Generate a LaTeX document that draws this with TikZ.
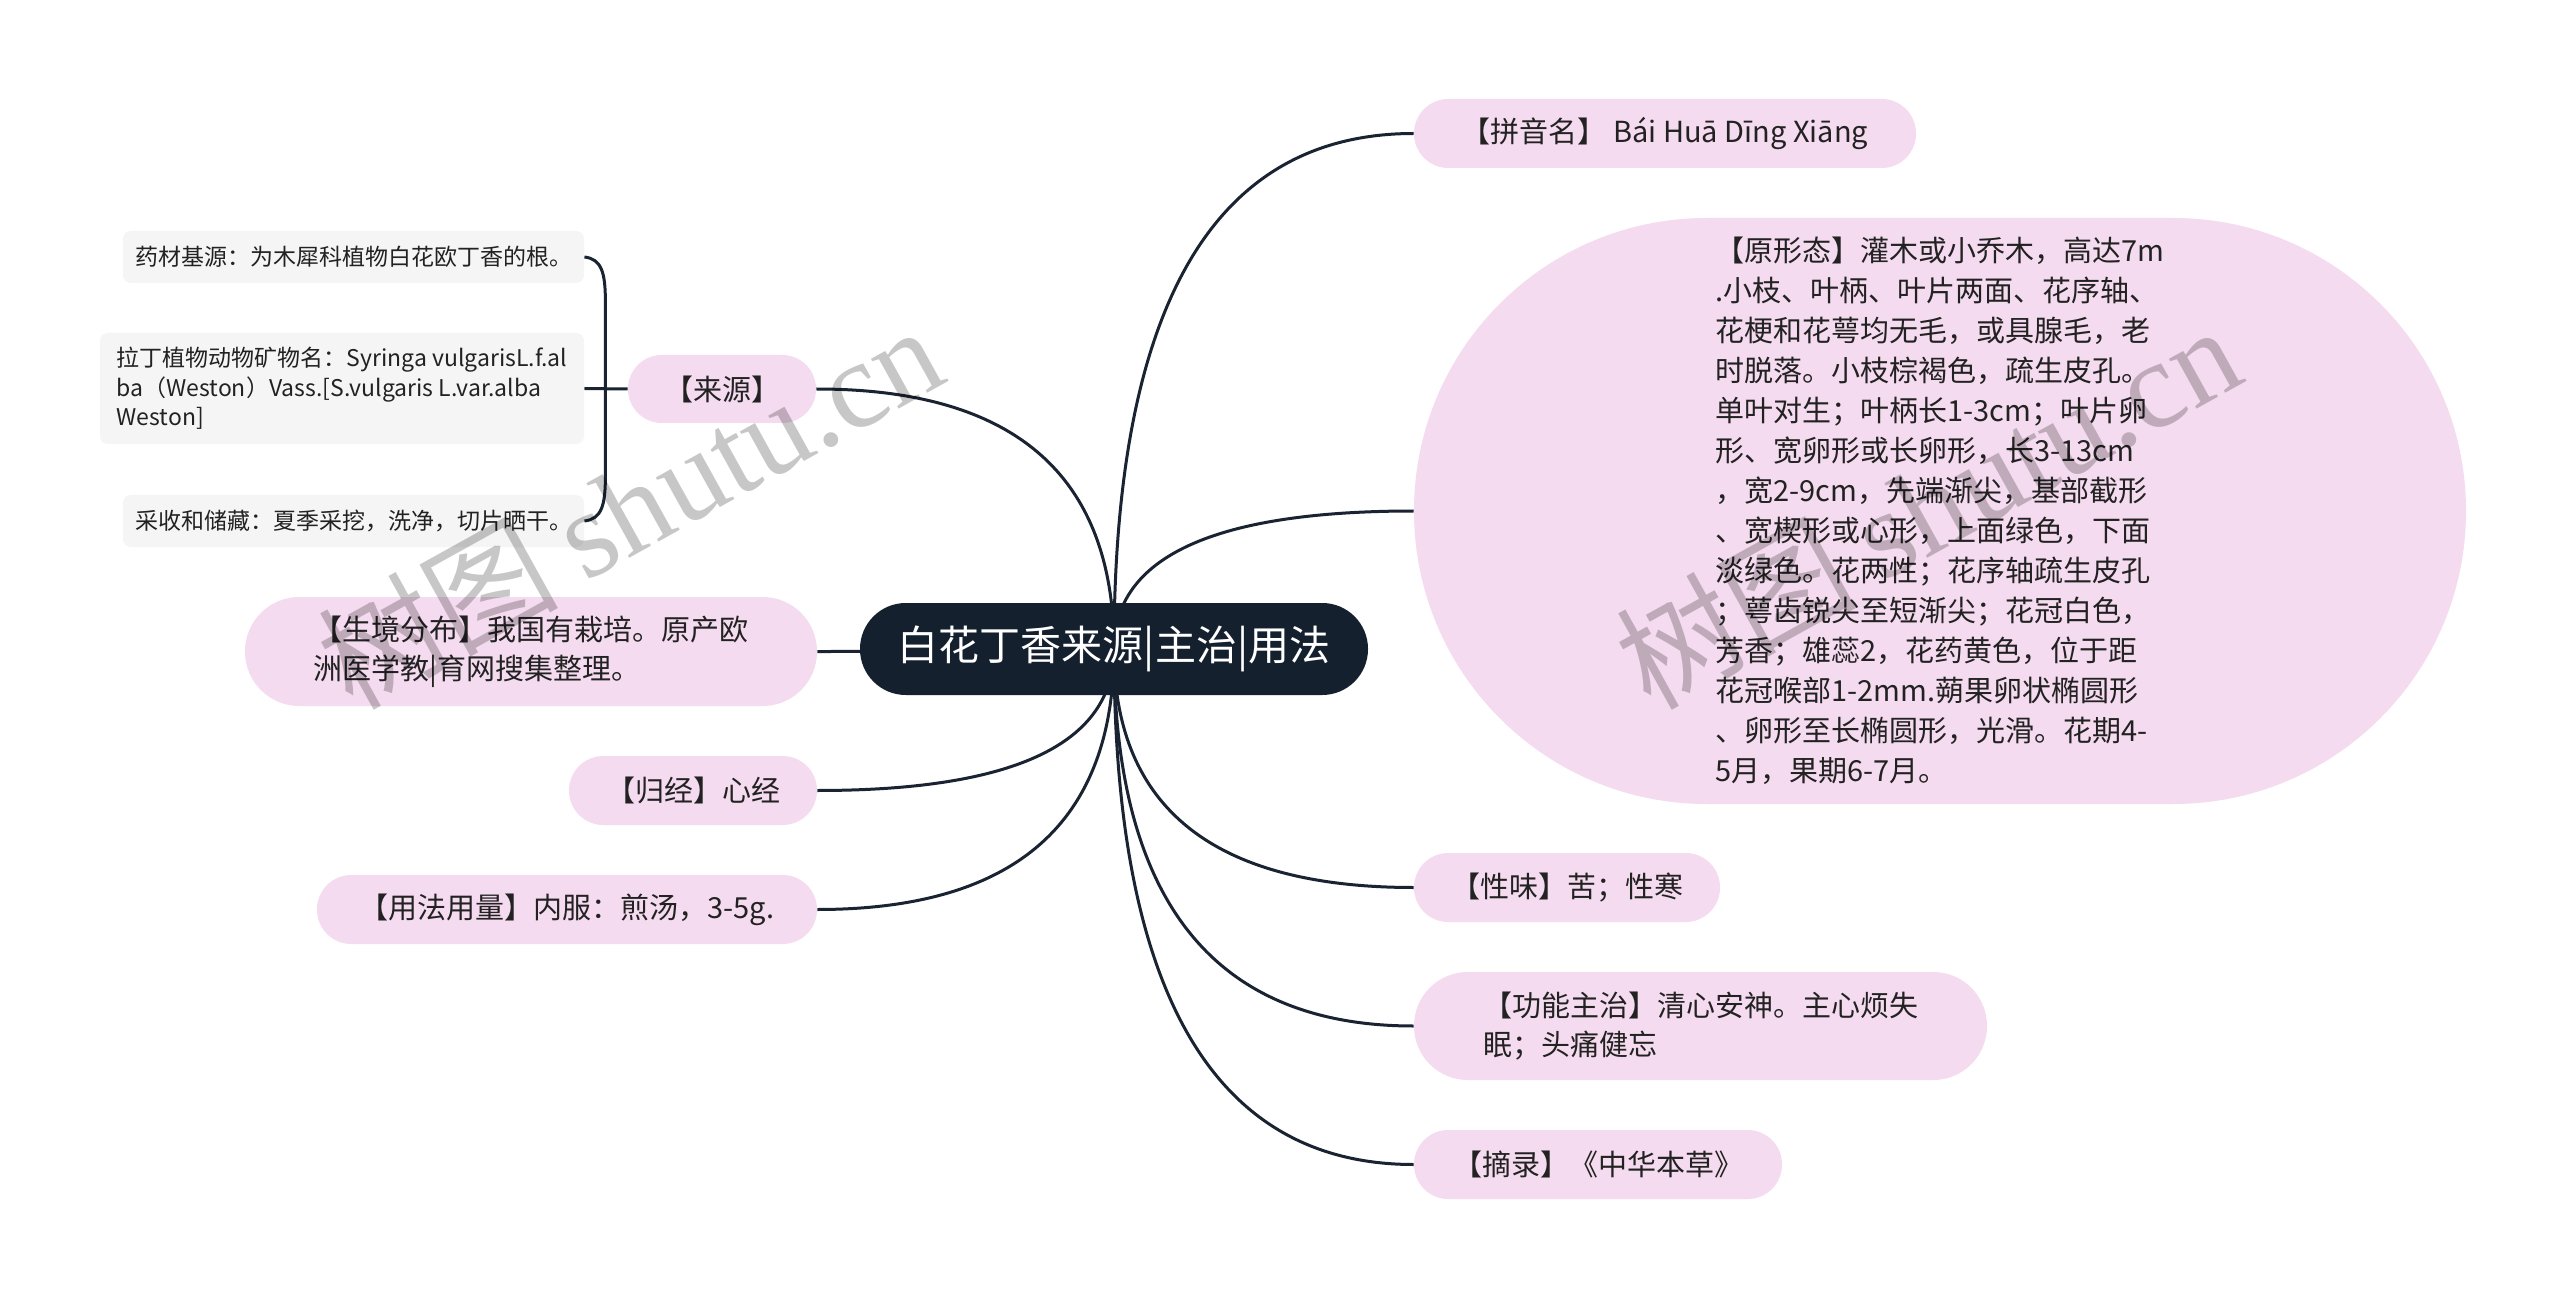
\documentclass[tikz,border=0pt]{standalone}
\usepackage{fontspec}
\setmainfont{Noto Sans CJK SC}
\newfontfamily\wmlat{Liberation Serif}
\usetikzlibrary{calc,backgrounds}
\definecolor{rootc}{HTML}{15202E}
\definecolor{linec}{HTML}{1A2332}
\definecolor{pinkc}{HTML}{F5DBEF}
\definecolor{grayc}{HTML}{F5F5F5}
\definecolor{txtc}{HTML}{222222}
\newcommand{\mmlink}[1]{\draw[conn] (root.center) .. controls ($(root.center)!0.667!(root.center |- #1)$) and ($(#1)!0.667!(root.center |- #1)$) .. (#1);}
\begin{document}
\begin{tikzpicture}[x=0.5pt,y=-0.5pt,
  conn/.style={draw=linec,line width=1.5pt},
  rootnode/.style={rectangle,fill=rootc,text=white,inner sep=0pt,rounded corners=22.9pt,minimum width=254pt,minimum height=46pt,font=\fontsize{20.5pt}{24pt}\selectfont},
  topic/.style={rectangle,fill=pinkc,text=txtc,inner sep=0pt,align=left,font=\fontsize{14.5pt}{19.5pt}\selectfont},
  pill/.style 2 args={minimum width=#1pt,minimum height=#2pt,rounded corners={#2pt/2-0.1pt}},
  sub/.style={rectangle,fill=grayc,text=txtc,inner sep=0pt,rounded corners=4pt,align=left,font=\fontsize{11.5pt}{14.75pt}\selectfont},
  wm/.style={text=black,opacity=0.22,rotate=29,anchor=base west,inner sep=0pt,font=\fontsize{60pt}{60pt}\selectfont}]

\useasboundingbox (0,0) rectangle (2560,1299);

% central topic
\node[rootnode] (root) at (1114,649) {白花丁香来源|主治|用法};

% right branches
\node[topic,pill={251}{34.5}] (py) at (1665,133.5) {【拼音名】 Bái Huā Dīng Xiāng};
\node[topic,pill={526}{293},font=\fontsize{14.5pt}{20pt}\selectfont] (xt) at (1940,511) {【原形态】灌木或小乔木，高达7m\\.小枝、叶柄、叶片两面、花序轴、\\花梗和花萼均无毛，或具腺毛，老\\时脱落。小枝棕褐色，疏生皮孔。\\单叶对生；叶柄长1-3cm；叶片卵\\形、宽卵形或长卵形，长3-13cm\\，宽2-9cm，先端渐尖，基部截形\\、宽楔形或心形，上面绿色，下面\\淡绿色。花两性；花序轴疏生皮孔\\；萼齿锐尖至短渐尖；花冠白色，\\芳香；雄蕊2，花药黄色，位于距\\花冠喉部1-2mm.蒴果卵状椭圆形\\、卵形至长椭圆形，光滑。花期4-\\5月，果期6-7月。};
\node[topic,pill={153}{34.5}] (xw) at (1567,887.5) {【性味】苦；性寒};
\node[topic,pill={286.5}{54}] (gn) at (1700.5,1026) {【功能主治】清心安神。主心烦失\\眠；头痛健忘};
\node[topic,pill={184}{34.5}] (zl) at (1598,1164.5) {【摘录】《中华本草》};

% left branches
\node[topic,pill={94}{34}] (ly) at (722,389) {【来源】};
\node[topic,pill={286}{54.5}] (sj) at (531,651.5) {【生境分布】我国有栽培。原产欧\\洲医学教|育网搜集整理。};
\node[topic,pill={124}{34.5}] (gj) at (693,790.5) {【归经】心经};
\node[topic,pill={250}{34.5}] (yf) at (567,909.5) {【用法用量】内服：煎汤，3-5g.};

% sub topics of 来源
\node[sub,minimum width=230.5pt,minimum height=26pt] (ca) at (353.5,257) {药材基源：为木犀科植物白花欧丁香的根。};
\node[sub,minimum width=242pt,minimum height=55.5pt] (cb) at (342,388.5) {拉丁植物动物矿物名：Syringa vulgarisL.f.al\\ba（Weston）Vass.[S.vulgaris L.var.alba\\Weston]};
\node[sub,minimum width=230.5pt,minimum height=26pt] (cc) at (353.5,521) {采收和储藏：夏季采挖，洗净，切片晒干。};

\begin{pgfonlayer}{background}
\fill[white] (0,0) rectangle (2560,1299);
\mmlink{py.west}
\mmlink{xt.west}
\mmlink{xw.west}
\mmlink{gn.west}
\mmlink{zl.west}
\mmlink{ly.east}
\mmlink{sj.east}
\mmlink{gj.east}
\mmlink{yf.east}
\draw[conn] (ca.east) .. controls +(17,2) and +(0,-30) .. ($(ca.east)+(21,45)$) -- ($(cc.east)+(21,-45)$) .. controls +(0,30) and +(17,-2) .. (cc.east);
\draw[conn] (cb.east) -- (ly.west);
\end{pgfonlayer}

% watermarks
\node[wm] (wm1) at (352,712) {树图 {\wmlat\fontsize{62pt}{62pt}\selectfont shutu.cn}};
\node[wm] (wm2) at (1650,712) {树图 {\wmlat\fontsize{62pt}{62pt}\selectfont shutu.cn}};
\end{tikzpicture}
\end{document}
